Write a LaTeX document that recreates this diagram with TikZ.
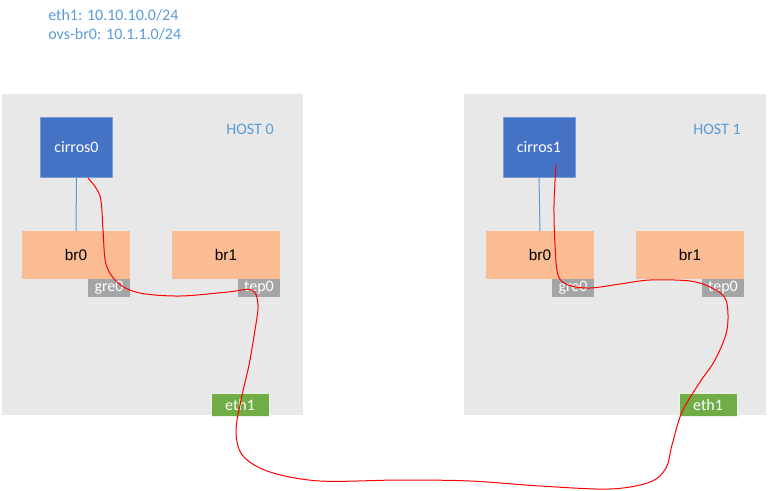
\documentclass[tikz,border=0pt]{standalone}
\usepackage{fontspec}
\setmainfont{Carlito}
\newfontfamily\brfont{Liberation Sans}
\definecolor{hostgrey}{HTML}{E8E8E8}
\definecolor{vmblue}{HTML}{4472C4}
\definecolor{brpeach}{HTML}{FBBB93}
\definecolor{portgrey}{HTML}{A5A5A5}
\definecolor{nicgreen}{HTML}{70AD47}
\definecolor{txtblue}{HTML}{5B9BD5}
\begin{document}
\begin{tikzpicture}[x=0.75pt, y=-0.75pt, line cap=round, line join=round,
    font=\fontsize{12}{14}\selectfont,
    vmbox/.style={fill=vmblue, draw=vmblue!70!white, text=white, minimum width=54pt, minimum height=45pt, inner sep=0pt},
    brbox/.style={fill=brpeach, font=\brfont\fontsize{11.5}{14}\selectfont, minimum width=81pt, minimum height=36pt, inner sep=0pt},
    portbox/.style={fill=portgrey, text=white, minimum width=31.5pt, minimum height=13.5pt, inner sep=0pt},
    nicbox/.style={fill=nicgreen, draw=white!85!nicgreen, text=white, minimum width=43.5pt, minimum height=17.25pt, inner sep=0pt},
    hostlabel/.style={text=txtblue, inner sep=0pt},
    vlink/.style={txtblue, line width=0.75pt},
    tunnel/.style={red, line width=0.75pt}]

    \useasboundingbox (0,0) rectangle (768,490);

    % network notes
    \node[hostlabel, anchor=west] (net1) at (48,15) {eth1: 10.10.10.0/24};
    \node[hostlabel, anchor=west] (net2) at (48,34) {ovs-br0: 10.1.1.0/24};

    % hosts
    \fill[hostgrey] (2,94) rectangle (303,415);
    \fill[hostgrey] (464,94) rectangle (766,415);
    \node[hostlabel] (h0) at (250,129) {HOST 0};
    \node[hostlabel] (h1) at (717,129) {HOST 1};

    % host 0
    \node[vmbox] (cirros0) at (76.5,147) {cirros0};
    \node[brbox] (br0a) at (76,255) {br0};
    \node[brbox] (br1a) at (226,255) {br1};
    \node[portbox] (gre0a) at (109,288) {gre0};
    \node[portbox] (tep0a) at (259,288) {tep0};
    \node[nicbox] (eth1a) at (240,404.5) {eth1};
    \draw[vlink] (cirros0.south) -- (br0a.north);

    % host 1
    \node[vmbox] (cirros1) at (539,147) {cirros1};
    \node[brbox] (br0b) at (540,255) {br0};
    \node[brbox] (br1b) at (690,255) {br1};
    \node[portbox] (gre0b) at (573,288) {gre0};
    \node[portbox] (tep0b) at (723,288) {tep0};
    \node[nicbox] (eth1b) at (708,404.5) {eth1};
    \draw[vlink] (cirros1.south) -- (br0b.north);

    % packet path
    \coordinate (vm0) at (88,178);
    \coordinate (vm1) at (556,165);
    \draw[tunnel] plot[smooth, tension=0.55] coordinates {(vm0) (100,196) (103,230) (106,264) (118,283) (140,293) (180,296) (228,292) (252,290) (258,305) (255,330) (249,365) (241,400) (236,432) (243,456) (270,472) (320,481) (400,480) (470,481) (540,486) (610,489) (650,482) (666,468) (672,445) (682,412) (700,382) (715,360) (727,330) (726,300) (712,288) (690,281) (650,280) (620,284) (590,288) (568,285) (558,275) (555,245) (554,205) (vm1)};

\end{tikzpicture}
\end{document}
